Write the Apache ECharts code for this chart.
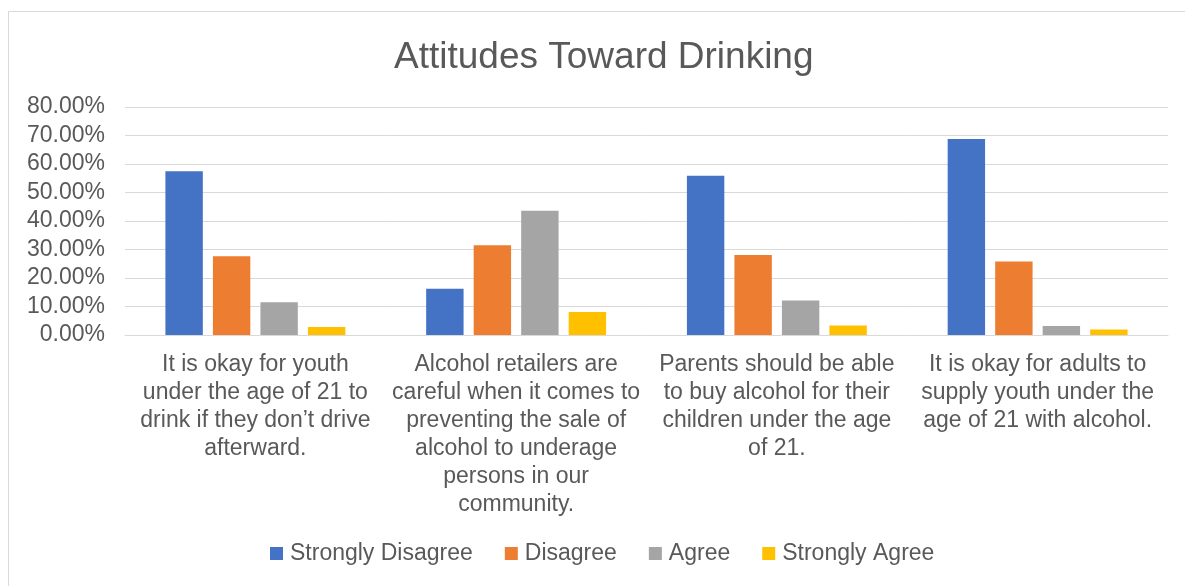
<!DOCTYPE html>
<html><head><meta charset="utf-8">
<script src="https://cdn.jsdelivr.net/npm/echarts@6/dist/echarts.min.js"></script>
<style>html,body{margin:0;padding:0;background:#fff}#c{width:1185px;height:586px}</style>
</head><body><div id="c"></div>
<script>
const categories = [
  "It is okay for youth\nunder the age of 21 to\ndrink if they don\u2019t drive\nafterward.",
  "Alcohol retailers are\ncareful when it comes to\npreventing the sale of\nalcohol to underage\npersons in our\ncommunity.",
  "Parents should be able\nto buy alcohol for their\nchildren under the age\nof 21.",
  "It is okay for adults to\nsupply youth under the\nage of 21 with alcohol."
];
const stronglyDisagree = [0.575, 0.162, 0.559, 0.688];
const disagree = [0.276, 0.315, 0.281, 0.258];
const agree = [0.115, 0.436, 0.121, 0.032];
const stronglyAgree = [0.028, 0.081, 0.033, 0.019];
const seriesNames = ["Strongly Disagree", "Disagree", "Agree", "Strongly Agree"];
const colors = ["#4472C4", "#ED7D31", "#A5A5A5", "#FFC000"];
const font = "Liberation Sans, Arial, sans-serif";
const chart = echarts.init(document.getElementById('c'), null, {renderer: 'canvas'});
const data = [stronglyDisagree, disagree, agree, stronglyAgree];
chart.setOption({
  animation: false,
  backgroundColor: '#fff',
  textStyle: {fontFamily: font},
  graphic: [{type: 'rect', shape: {x: 8.5, y: 11.5, width: 1200, height: 600}, style: {fill: 'none', stroke: '#d9d9d9', lineWidth: 1}}],
  title: {text: 'Attitudes Toward Drinking', left: 389, top: 34,
    textStyle: {fontFamily: font, fontSize: 37, fontWeight: 'normal', color: '#595959'}},
  legend: {top: 542, left: 270, padding: 0, itemWidth: 13, itemHeight: 13, itemGap: 32, icon: 'rect',
    textStyle: {fontFamily: font, fontSize: 23, color: '#595959', padding: [0, 0, 0, 2]},
    data: seriesNames},
  grid: {left: 125, right: 17, top: 107, bottom: 251, containLabel: false},
  xAxis: {type: 'category', data: categories,
    axisLine: {lineStyle: {color: '#d9d9d9', width: 1}}, axisTick: {show: false},
    axisLabel: {interval: 0, fontFamily: font, fontSize: 23, color: '#595959', lineHeight: 28, margin: 16}},
  yAxis: {type: 'value', min: 0, max: 0.8, interval: 0.1,
    axisLine: {show: false}, axisTick: {show: false},
    splitLine: {lineStyle: {color: '#d9d9d9', width: 1}},
    axisLabel: {fontFamily: font, fontSize: 23, color: '#595959', margin: 20,
      formatter: v => (v * 100).toFixed(2) + '%'}},
  series: seriesNames.map((n, i) => ({name: n, type: 'bar', data: data[i],
    itemStyle: {color: colors[i]}, barGap: '27%', barCategoryGap: '31%'}))
});
</script></body></html>
